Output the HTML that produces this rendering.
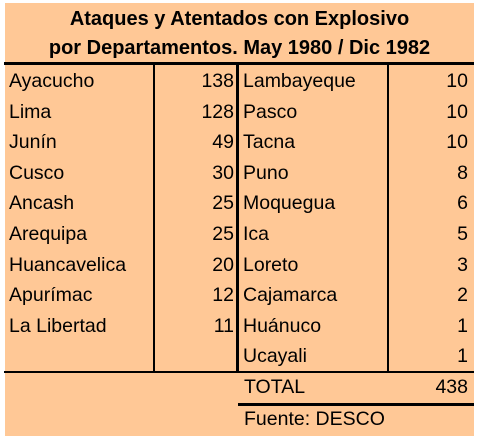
<!DOCTYPE html>
<html><head><meta charset="utf-8"><style>
body{margin:0;width:481px;height:441px;background:#fff;position:relative;overflow:hidden;font-family:"Liberation Sans",Arial,sans-serif;}
#bg{position:absolute;left:5px;top:3px;width:469px;height:433px;background:#FFC896;}
.t{position:absolute;white-space:nowrap;font-size:19.5px;color:#000;line-height:22px;}
.r{text-align:right;}
.title{position:absolute;left:5px;width:469px;text-align:center;font-weight:bold;font-size:20px;line-height:22px;}
.ln{position:absolute;background:#000;}
</style></head><body>
<div id="bg"></div>
<div class="title" style="top:8px">Ataques y Atentados con Explosivo</div>
<div class="title" style="top:37px">por Departamentos. May 1980 / Dic 1982</div>
<div class="ln" style="left:4px;top:62px;width:470px;height:3px"></div>
<div class="ln" style="left:153px;top:64px;width:2px;height:308px"></div>
<div class="ln" style="left:236px;top:64px;width:3px;height:308px"></div>
<div class="ln" style="left:387px;top:64px;width:2px;height:308px"></div>
<div class="ln" style="left:4px;top:371px;width:470px;height:2px"></div>
<div class="ln" style="left:238px;top:403px;width:236px;height:3px"></div>
<div id="rows"></div>
<div class="t" style="left:244px;top:376px">TOTAL</div>
<div class="t r" style="left:390px;width:78px;top:376px">438</div>
<div class="t" style="left:244px;top:408px">Fuente: DESCO</div>
<script>
const leftNames=["Ayacucho","Lima","Junín","Cusco","Ancash","Arequipa","Huancavelica","Apurímac","La Libertad"];
const leftVals=[138,128,49,30,25,25,20,12,11];
const rightNames=["Lambayeque","Pasco","Tacna","Puno","Moquegua","Ica","Loreto","Cajamarca","Huánuco","Ucayali"];
const rightVals=[10,10,10,8,6,5,3,2,1,1];
const c=document.getElementById('rows');
function add(txt,left,width,i,right,name){
  const d=document.createElement('div');
  d.className='t'+(right?' r':'');
  d.style.left=left+'px';
  if(width)d.style.width=width+'px';
  d.style.top=(70+i*30.6)+'px';
  d.textContent=txt;
  
  
  c.appendChild(d);
}
leftNames.forEach((n,i)=>{add(n,9,0,i,false,'department-name');add(String(leftVals[i]),156,78,i,true,'department-count');});
rightNames.forEach((n,i)=>{add(n,243,0,i,false,'department-name');add(String(rightVals[i]),390,78,i,true,'department-count');});
</script>
</body></html>
